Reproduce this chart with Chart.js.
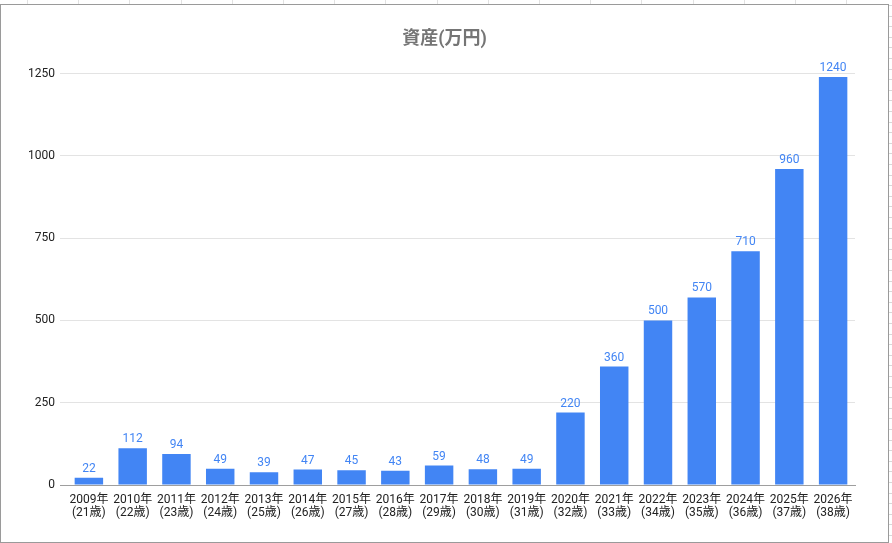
<!DOCTYPE html>
<html>
<head>
<meta charset="utf-8">
<script src="https://cdn.jsdelivr.net/npm/chart.js@4"></script>
<style>
  html, body { margin: 0; padding: 0; background: #fff; }
  body { width: 892px; height: 543px; position: relative; overflow: hidden; }
  .cells-top {
    position: absolute; left: 0; top: 0; width: 892px; height: 5px;
    background: repeating-linear-gradient(to right, transparent 0, transparent 27px, #e2e2e2 27px, #e2e2e2 28px, transparent 28px, transparent 51.2px);
  }
  .cells-right {
    position: absolute; left: 889px; top: 0; width: 3px; height: 543px;
    background: repeating-linear-gradient(to bottom, transparent 0, transparent 5px, #d8d8d8 5px, #d8d8d8 6px, transparent 6px, transparent 10.6px);
  }
  #wrap {
    position: absolute; left: 0; top: 4px; width: 887px; height: 537px;
    border: 1px solid #9a9a9a; background: #fff;
  }
</style>
</head>
<body>
<div class="cells-top"></div>
<div class="cells-right"></div>
<div id="wrap"><canvas id="assetChart" width="887" height="537"></canvas></div>
<script>
const years = [2009, 2010, 2011, 2012, 2013, 2014, 2015, 2016, 2017, 2018,
               2019, 2020, 2021, 2022, 2023, 2024, 2025, 2026];
const ages = [21, 22, 23, 24, 25, 26, 27, 28, 29, 30,
              31, 32, 33, 34, 35, 36, 37, 38];
const assets = [22, 112, 94, 49, 39, 47, 45, 43, 59, 48,
                49, 220, 360, 500, 570, 710, 960, 1240];
const yTicks = [0, 250, 500, 750, 1000, 1250];

const FONT = "Roboto, 'Noto Sans CJK JP', sans-serif";
const BLUE = "#4285F4";

// 棒の上に値を表示
const valueLabels = {
  id: "valueLabels",
  afterDatasetsDraw(chart) {
    const ctx = chart.ctx;
    const meta = chart.getDatasetMeta(0);
    ctx.save();
    ctx.fillStyle = BLUE;
    ctx.font = "12px " + FONT;
    ctx.textAlign = "center";
    ctx.textBaseline = "bottom";
    meta.data.forEach((bar, i) => {
      ctx.fillText(String(assets[i]), bar.x, bar.y - 3);
    });
    ctx.restore();
  }
};

new Chart(document.getElementById("assetChart").getContext("2d"), {
  type: "bar",
  data: {
    labels: years.map((y, i) => [y + "年", "(" + ages[i] + "歳)"]),
    datasets: [{
      label: "資産(万円)",
      data: assets,
      backgroundColor: BLUE,
      borderWidth: 0,
      categoryPercentage: 1,
      barPercentage: 0.65
    }]
  },
  options: {
    responsive: false,
    animation: false,
    layout: { padding: 0 },
    plugins: {
      legend: { display: false },
      tooltip: { enabled: false },
      title: {
        display: true,
        text: "資産(万円)",
        color: "#757575",
        font: { family: FONT, size: 18, weight: "bold" },
        padding: { top: 24, bottom: 23 }
      }
    },
    scales: {
      x: {
        grid: { display: false },
        border: { color: "#9e9e9e", width: 1 },
        ticks: {
          color: "#222",
          font: { family: FONT, size: 12, lineHeight: 1.1 },
          maxRotation: 0,
          autoSkip: false,
          padding: 0
        },
        afterFit(scale) { scale.height = 57; }
      },
      y: {
        min: 0,
        max: 1250,
        afterBuildTicks(scale) { scale.ticks = yTicks.map(v => ({ value: v })); },
        grid: {
          color: ctx => (ctx.tick && ctx.tick.value === 0 ? "#9e9e9e" : "#e3e3e3"),
          drawTicks: true,
          tickLength: 7
        },
        border: { display: false },
        ticks: {
          color: "#222",
          font: { family: FONT, size: 12 },
          padding: 5,
          callback: v => String(v)
        },
        afterFit(scale) { scale.width = 66; }
      },
      // 右側の余白用(データなし)
      yRight: {
        position: "right",
        grid: { display: false },
        border: { display: false },
        ticks: { display: false },
        afterFit(scale) { scale.width = 33; }
      }
    }
  },
  plugins: [valueLabels]
});
</script>
</body>
</html>
